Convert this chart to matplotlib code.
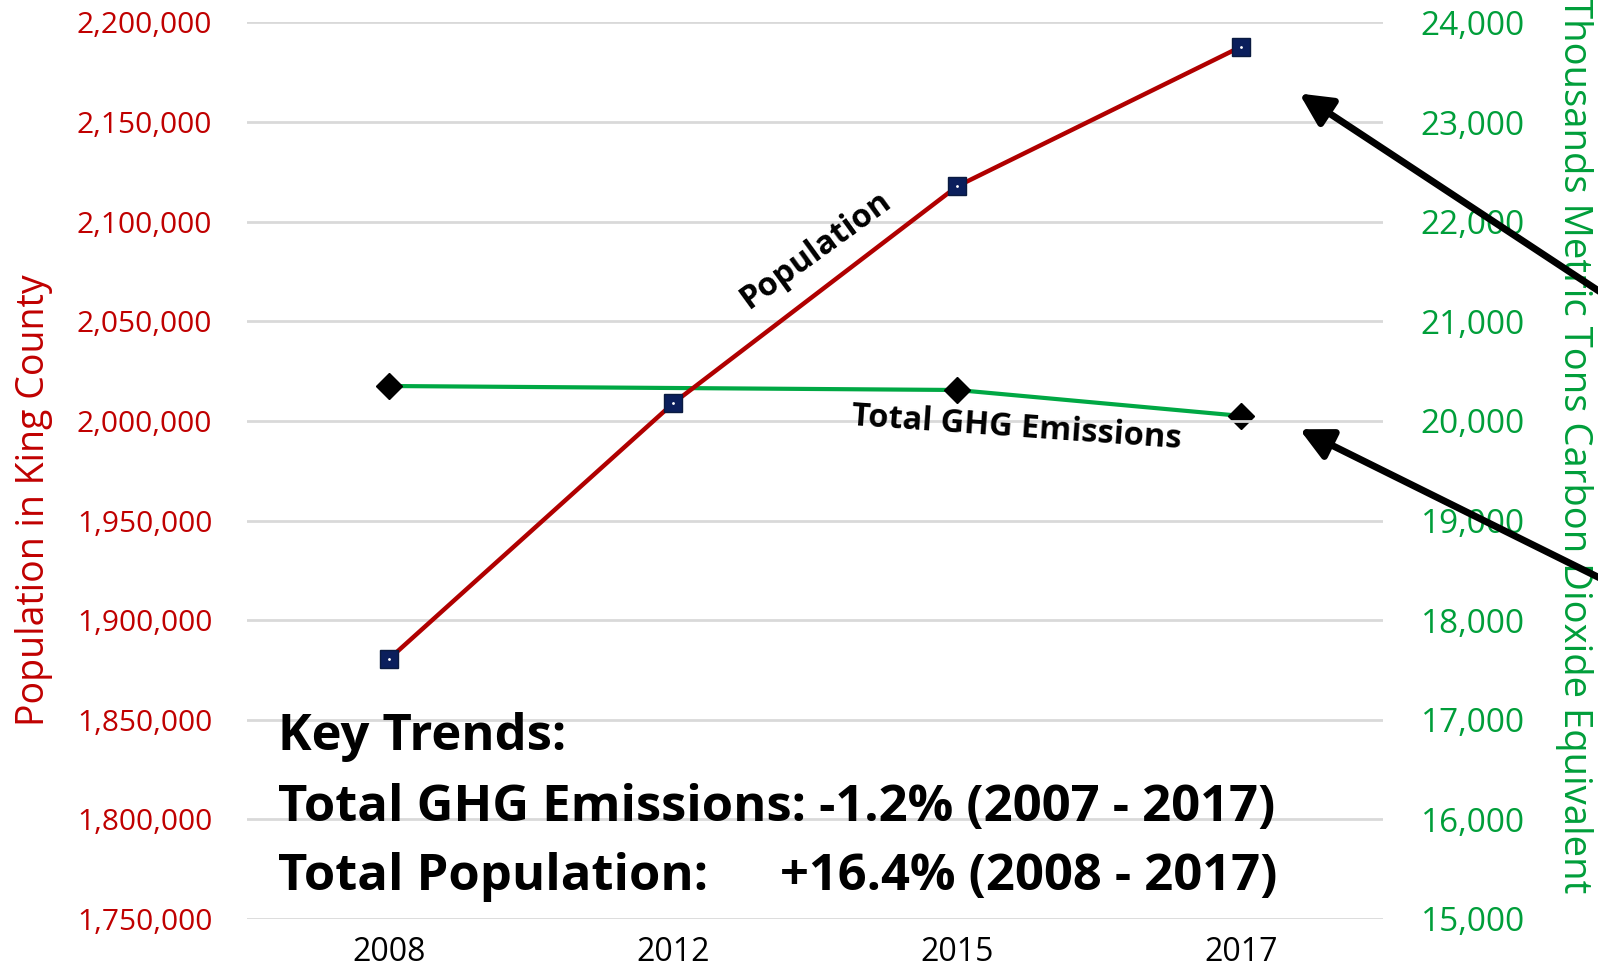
import numpy as np
import matplotlib.pyplot as plt
from matplotlib.patches import FancyArrowPatch
from matplotlib.ticker import FuncFormatter

# data
years = ['2008', '2012', '2015', '2017']
population = [1880500, 2008800, 2117700, 2187800]
ghg_years_idx = [0, 2, 3]          # no GHG point for 2012
ghg_emissions = [20350, 20310, 20050]

pop_ticks = [1750000, 1800000, 1850000, 1900000, 1950000, 2000000, 2050000, 2100000, 2150000, 2200000]
ghg_ticks = [15000, 16000, 17000, 18000, 19000, 20000, 21000, 22000, 23000, 24000]

RED = '#C00000'
RED_LINE = '#B00000'
GREEN = '#009E3A'
GREEN_LINE = '#00A844'
NAVY = '#0B1F5C'

plt.rcParams['font.family'] = ['Open Sans', 'DejaVu Sans']

fig = plt.figure(figsize=(15.98, 9.73), dpi=100)
ax = fig.add_axes([0.1546, 0.0555, 0.7109, 0.9215])
ax2 = ax.twinx()

x = np.arange(len(years))

# GHG on right axis
ax2.plot(ghg_years_idx, ghg_emissions, color=GREEN_LINE, lw=3, marker='D', ms=13,
         mfc='black', mec='black', zorder=3)
ax2.set_ylim(15000, 24000)
ax2.set_yticks(ghg_ticks)
ax2.yaxis.set_major_formatter(FuncFormatter(lambda v, p: f'{int(v):,}'))
ax2.tick_params(axis='y', length=0, pad=27, labelsize=24, labelcolor=GREEN)

# population on left axis, drawn above
ax.set_zorder(ax2.get_zorder() + 1)
ax.patch.set_visible(False)
ax.plot(x, population, color=RED_LINE, lw=3.2, marker='s', ms=13, mfc=NAVY, mec='#0A1A40',
        zorder=4)
ax.plot(x, population, ls='none', marker='.', ms=2, color='white', zorder=5)
ax.set_ylim(1750000, 2200000)
ax.set_yticks(pop_ticks)
ax.yaxis.set_major_formatter(FuncFormatter(lambda v, p: f'{int(v):,}'))
ax.tick_params(axis='y', length=0, pad=25, labelsize=21.5, labelcolor=RED)
ax.set_xlim(-0.5, 3.5)
ax.set_xticks(x)
ax.set_xticklabels(years)
ax.tick_params(axis='x', length=0, pad=12, labelsize=23, labelcolor='black')
ax.grid(axis='y', color='#D9D9D9', lw=2)
ax.set_axisbelow(True)

for a in (ax, ax2):
    for s in a.spines.values():
        s.set_visible(False)

# axis titles
fig.text(0.021, 0.486, 'Population in King County', rotation=90, color=RED, fontsize=27,
         ha='center', va='center')
fig.text(0.985, 0.542, 'Thousands Metric Tons Carbon Dioxide Equivalent', rotation=-90,
         color=GREEN, fontsize=27.5, ha='center', va='center')

# series labels
ax.text(1.5, 2085800, 'Population', rotation=36, fontsize=23.5, fontweight='bold',
        ha='center', va='center')
ax.text(2.21, 1996400, 'Total GHG Emissions', rotation=-4, fontsize=23.5, fontweight='bold',
        ha='center', va='center')

# key trends box
kt = dict(fontsize=36.5, fontweight='bold', va='center', ha='left', transform=ax.transAxes)
ax.text(0.027, 0.203, 'Key Trends:', **kt)
ax.text(0.027, 0.124, 'Total GHG Emissions: -1.2% (2007 - 2017)', **kt)
ax.text(0.027, 0.047, 'Total Population:', **kt)
ax.text(0.469, 0.047, '+16.4% (2008 - 2017)', **kt)

# arrows coming in from the right edge
W, H = 1598, 973
for (x0, y0), (x1, y1) in [((1620, 305), (1297, 92)), ((1620, 588), (1297, 428))]:
    arr = FancyArrowPatch((x0 / W, 1 - y0 / H), (x1 / W, 1 - y1 / H),
                          transform=fig.transFigure, arrowstyle='-|>',
                          mutation_scale=48, lw=5, color='black', zorder=10)
    fig.add_artist(arr)

fig.savefig('out.png', dpi=100)
